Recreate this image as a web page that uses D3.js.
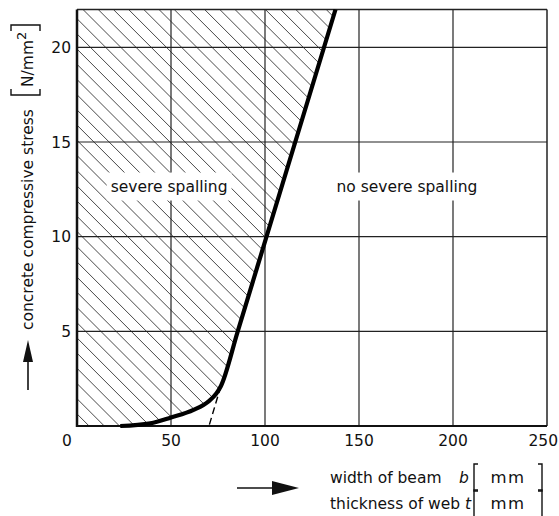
<!DOCTYPE html>
<html>
<head>
<meta charset="utf-8">
<script src="https://cdn.jsdelivr.net/npm/d3@7"></script>
<style>
  body { margin: 0; background: #fff; }
  text { font-family: "DejaVu Sans", sans-serif; fill: #111; }
</style>
</head>
<body>
<div id="chart"></div>
<script>
// axis ticks
var xTicks = [0, 50, 100, 150, 200, 250];
var yTicks = [5, 10, 15, 20];
var xGrid = [50, 100, 150, 200];
var yGrid = [5, 10, 15, 20];

// boundary curve b/t [mm] vs stress [N/mm2]
var curveX = [23, 39, 50, 62, 70, 74, 76.5, 85.5, 137.5];
var curveY = [0, 0.14, 0.45, 0.85, 1.3, 1.7, 2.1, 5, 22];

// dashed extension of the straight part
var dashX = [76.5, 70.2];
var dashY = [2.1, 0];

var regionLabels = ["severe spalling", "no severe spalling"];
var regionX = [49, 175.5];
var regionY = [12.65, 12.65];

var width = 559, height = 516;

var x = d3.scaleLinear().domain([0, 250]).range([77, 547]);
var y = d3.scaleLinear().domain([0, 22]).range([426, 9.5]);

var svg = d3.select("#chart")
  .append("svg")
  .attr("width", width)
  .attr("height", height);

var curvePts = curveX.map(function(d, i) { return [d, curveY[i]]; });

var curveLine = d3.line()
  .x(function(d) { return x(d[0]); })
  .y(function(d) { return y(d[1]); })
  .curve(d3.curveMonotoneX);

// hatched region = left of the curve
svg.append("clipPath")
  .attr("id", "hatchClip")
  .append("path")
  .attr("d", curveLine(curvePts) +
    "L" + x(0) + "," + y(22) + "L" + x(0) + "," + y(0) + "Z");

var hatch = svg.append("g").attr("clip-path", "url(#hatchClip)");
var step = 15.2;
for (var c = -450; c < 500; c += step) {
  hatch.append("line")
    .attr("x1", x(0) + c)
    .attr("y1", y(22))
    .attr("x2", x(0) + c + (y(0) - y(22)))
    .attr("y2", y(0))
    .style("stroke", "#333")
    .style("stroke-width", 0.9);
}

// grid
svg.selectAll(".vgrid")
  .data(xGrid)
  .enter().append("line")
    .attr("class", "vgrid")
    .attr("x1", function(d) { return x(d); })
    .attr("x2", function(d) { return x(d); })
    .attr("y1", y(0))
    .attr("y2", y(22))
    .style("stroke", "#222")
    .style("stroke-width", 1.2);

svg.selectAll(".hgrid")
  .data(yGrid)
  .enter().append("line")
    .attr("class", "hgrid")
    .attr("x1", x(0))
    .attr("x2", x(250))
    .attr("y1", function(d) { return y(d); })
    .attr("y2", function(d) { return y(d); })
    .style("stroke", "#222")
    .style("stroke-width", 1.2);

// frame
svg.append("line").attr("x1", x(0)).attr("x2", x(250)).attr("y1", y(22)).attr("y2", y(22))
  .style("stroke", "#222").style("stroke-width", 1.5);
svg.append("line").attr("x1", x(250)).attr("x2", x(250)).attr("y1", y(0)).attr("y2", y(22))
  .style("stroke", "#222").style("stroke-width", 1.5);
svg.append("line").attr("x1", x(0)).attr("x2", x(0)).attr("y1", y(0) + 1).attr("y2", y(22))
  .style("stroke", "#111").style("stroke-width", 2.5);
svg.append("line").attr("x1", x(0)).attr("x2", x(250)).attr("y1", y(0)).attr("y2", y(0))
  .style("stroke", "#111").style("stroke-width", 2.2);

// region labels with white knock-out behind
regionLabels.forEach(function(label, i) {
  var t = svg.append("text")
    .attr("x", x(regionX[i]))
    .attr("y", y(regionY[i]) + 5)
    .attr("text-anchor", "middle")
    .style("font-size", "15.5px")
    .text(label);
  var bb = t.node().getBBox();
  svg.insert("rect", "text")
    .attr("x", bb.x - 4)
    .attr("y", y(regionY[i]) - 14)
    .attr("width", bb.width + 8)
    .attr("height", 28)
    .style("fill", "#fff");
});

// boundary curve
svg.append("path")
  .attr("d", curveLine(curvePts))
  .style("fill", "none")
  .style("stroke", "#000")
  .style("stroke-width", 4.2)
  .style("stroke-linecap", "butt");

svg.append("path")
  .attr("d", d3.line()
    .x(function(d) { return x(d); })
    .y(function(d, i) { return y(dashY[i]); })(dashX))
  .style("fill", "none")
  .style("stroke", "#000")
  .style("stroke-width", 1.4)
  .style("stroke-dasharray", "7,4");

// tick labels
svg.selectAll(".xlab")
  .data(xTicks)
  .enter().append("text")
    .attr("class", "xlab")
    .attr("x", function(d) { return d === 0 ? x(d) - 10 : (d === 250 ? 558 : x(d)); })
    .attr("y", 446)
    .attr("text-anchor", function(d) { return d === 250 ? "end" : "middle"; })
    .style("font-size", "15.5px")
    .text(function(d) { return d; });

svg.selectAll(".ylab")
  .data(yTicks)
  .enter().append("text")
    .attr("class", "ylab")
    .attr("x", 71)
    .attr("y", function(d) { return y(d) + 5.5; })
    .attr("text-anchor", "end")
    .style("font-size", "15.5px")
    .text(function(d) { return d; });

// y axis title
svg.append("text")
  .attr("transform", "translate(33,330) rotate(-90)")
  .style("font-size", "15.5px")
  .text("concrete compressive stress");

var unit = svg.append("text")
  .attr("transform", "translate(33,87) rotate(-90)")
  .style("font-size", "15.5px")
  .text("N/mm");
unit.append("tspan")
  .attr("dy", -7)
  .style("font-size", "13px")
  .text("2");

svg.append("path")
  .attr("d", "M11,89 L11,95 L40,95 L40,89 M11,31 L11,25 L40,25 L40,31")
  .style("fill", "none").style("stroke", "#111").style("stroke-width", 1.4);

// y arrow
svg.append("line").attr("x1", 28).attr("x2", 28).attr("y1", 390).attr("y2", 358)
  .style("stroke", "#111").style("stroke-width", 1.6);
svg.append("path").attr("d", "M28,340 L23,362 L33,362 Z").style("fill", "#111");

// x arrow
svg.append("line").attr("x1", 237).attr("x2", 276).attr("y1", 488).attr("y2", 488)
  .style("stroke", "#111").style("stroke-width", 1.6);
svg.append("path").attr("d", "M299,488 L272,481 L272,495 Z").style("fill", "#111");

// x axis title
var rows = ["width of beam", "thickness of web"];
var syms = ["b", "t"];
var rowY = [483, 509];
rows.forEach(function(r, i) {
  svg.append("text").attr("x", 330).attr("y", rowY[i])
    .style("font-size", "15.5px").text(r);
  svg.append("text").attr("x", i === 0 ? 459 : 465).attr("y", rowY[i])
    .style("font-size", "15.5px").style("font-style", "italic").text(syms[i]);
  svg.append("text").attr("x", 508).attr("y", rowY[i])
    .attr("text-anchor", "middle")
    .style("font-size", "16.5px").style("letter-spacing", "1.5px").text("mm");
  var top = rowY[i] - 19, bot = rowY[i] + 8;
  svg.append("path")
    .attr("d", "M478," + top + " L474," + top + " L474," + bot + " L478," + bot +
      " M538," + top + " L542," + top + " L542," + bot + " L538," + bot)
    .style("fill", "none").style("stroke", "#111").style("stroke-width", 1.4);
});
</script>
</body>
</html>
